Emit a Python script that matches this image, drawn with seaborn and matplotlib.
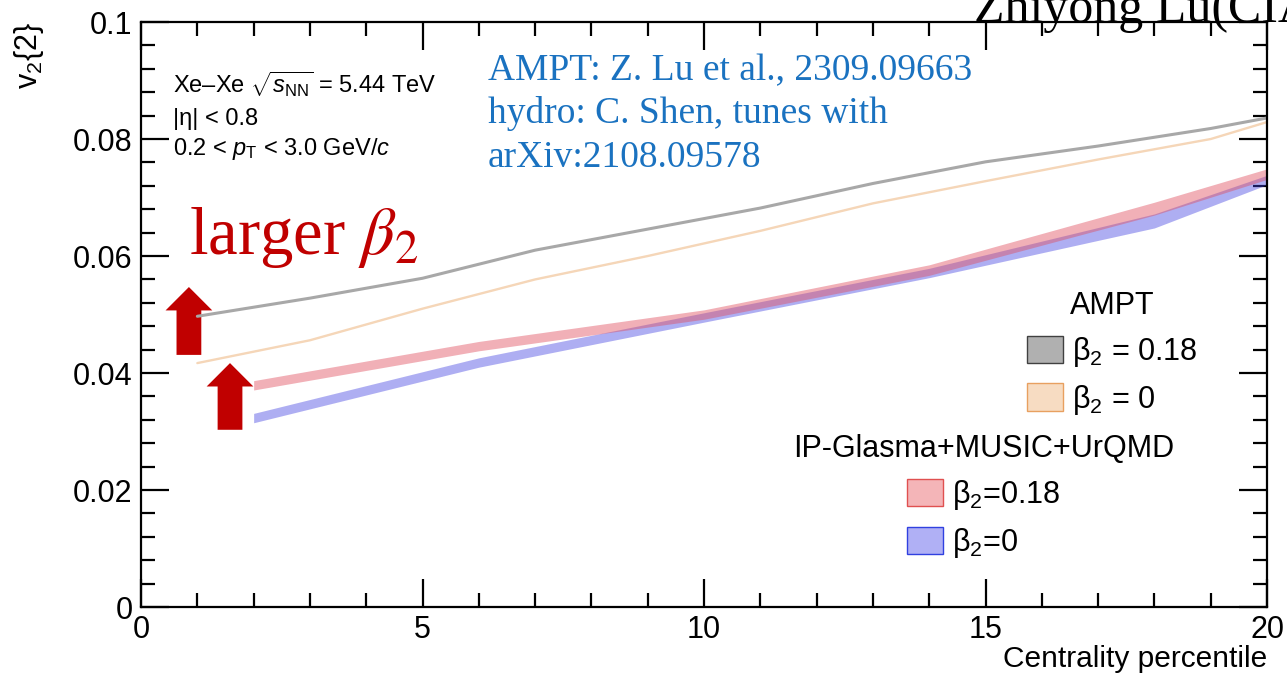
import matplotlib
matplotlib.use('Agg')
import matplotlib.pyplot as plt
import seaborn as sns
from matplotlib.patches import Patch, FancyArrow
from matplotlib.ticker import MultipleLocator

# centrality (%) and v2{2}
ampt_cent = [1, 3, 5, 7, 9, 11, 13, 15, 17, 19, 20]
ampt_b018 = [0.0497, 0.0528, 0.0562, 0.0610, 0.0646, 0.0682, 0.0724, 0.0761, 0.0788, 0.0818, 0.0836]
ampt_b0 = [0.0417, 0.0456, 0.0510, 0.0560, 0.0600, 0.0643, 0.0690, 0.0728, 0.0765, 0.0800, 0.0829]

hydro_cent = [2, 6, 10, 14, 18, 20]
hydro_b018_lo = [0.0371, 0.0438, 0.0492, 0.0567, 0.0670, 0.0731]
hydro_b018_hi = [0.0387, 0.0454, 0.0508, 0.0585, 0.0692, 0.0749]
hydro_b0_lo = [0.0315, 0.0410, 0.0487, 0.0563, 0.0648, 0.0722]
hydro_b0_hi = [0.0331, 0.0426, 0.0503, 0.0579, 0.0672, 0.0738]

x_ticks = [0, 5, 10, 15, 20]
x_ticklabels = ['0', '5', '10', '15', '20']
y_ticks = [0, 0.02, 0.04, 0.06, 0.08, 0.1]
y_ticklabels = ['0', '0.02', '0.04', '0.06', '0.08', '0.1']

sns.set_style('ticks')
plt.rcParams['font.family'] = ['Liberation Sans', 'DejaVu Sans']
plt.rcParams['mathtext.fontset'] = 'custom'
plt.rcParams['mathtext.rm'] = 'Liberation Sans'
plt.rcParams['mathtext.it'] = 'Liberation Sans:italic'
plt.rcParams['mathtext.bf'] = 'Liberation Sans:bold'
plt.rcParams['text.color'] = 'black'
plt.rcParams['axes.labelcolor'] = 'black'
plt.rcParams['xtick.color'] = 'black'
plt.rcParams['ytick.color'] = 'black'

fig = plt.figure(figsize=(12.87, 6.73), dpi=100)
ax = fig.add_axes([0.1096, 0.098, 0.8749, 0.8693])

# hydro bands
ax.fill_between(hydro_cent, hydro_b0_lo, hydro_b0_hi, color='#4040e0', alpha=0.42, linewidth=0)
ax.fill_between(hydro_cent, hydro_b018_lo, hydro_b018_hi, color='#e05060', alpha=0.45, linewidth=0)

# AMPT lines
sns.lineplot(x=ampt_cent, y=ampt_b0, ax=ax, color='#f5d6b8', linewidth=1.7)
sns.lineplot(x=ampt_cent, y=ampt_b018, ax=ax, color='#a8a8a8', linewidth=2.2)

# arrows
ax.add_patch(FancyArrow(0.85, 0.0431, 0, 0.0116, width=0.44, head_width=0.83,
                        head_length=0.0040, length_includes_head=True,
                        color='#c00000', linewidth=0))
ax.add_patch(FancyArrow(1.58, 0.0303, 0, 0.0114, width=0.44, head_width=0.83,
                        head_length=0.0040, length_includes_head=True,
                        color='#c00000', linewidth=0))

ax.set_xlim(0, 20)
ax.set_ylim(0, 0.1)
ax.set_xticks(x_ticks)
ax.set_xticklabels(x_ticklabels)
ax.set_yticks(y_ticks)
ax.set_yticklabels(y_ticklabels)
ax.xaxis.set_minor_locator(MultipleLocator(1))
ax.yaxis.set_minor_locator(MultipleLocator(0.004))
ax.tick_params(which='both', direction='in', top=True, right=True, width=1.6, colors='black')
ax.tick_params(which='major', length=20, labelsize=22, pad=6)
ax.tick_params(which='minor', length=10)
for s in ax.spines.values():
    s.set_linewidth(1.6)
    s.set_color('black')

ax.set_xlabel('Centrality percentile', fontsize=21.5, loc='right')
ax.xaxis.set_label_coords(1.0, -0.065)
ax.set_ylabel(r'v$_2${2}', fontsize=22, loc='top')
ax.yaxis.set_label_coords(-0.084, 1.0)

# info text
ax.text(0.0284, 0.879, r'Xe–Xe $\sqrt{s_{\mathrm{NN}}}$ = 5.44 TeV', transform=ax.transAxes,
        fontsize=17, va='baseline')
ax.text(0.0284, 0.824, '|η| < 0.8', transform=ax.transAxes, fontsize=17, va='baseline')
ax.text(0.0284, 0.773, r'0.2 < $p_{\mathrm{T}}$ < 3.0 GeV/$c$', transform=ax.transAxes,
        fontsize=17, va='baseline')

blue = '#1a72c0'
for txt, yy in [('AMPT: Z. Lu et al., 2309.09663', 0.901),
                ('hydro: C. Shen, tunes with', 0.827),
                ('arXiv:2108.09578', 0.752)]:
    ax.text(0.308, yy, txt, transform=ax.transAxes, fontsize=27, color=blue,
            family='Liberation Serif', va='baseline')

ax.text(0.0426, 0.604, r'larger $\beta_2$', transform=ax.transAxes, fontsize=48,
        color='#c00000', family='Liberation Serif', math_fontfamily='stix', va='baseline')

fig.text(0.757, 1 - 22 / 673, 'Zhiyong Lu(CIAE)', fontsize=36, family='Liberation Serif',
         va='baseline')
fig.text(-0.012, 0.66, ')', fontsize=34, color='#555555')

# legends
leg_kw = dict(loc='upper left', frameon=False, fontsize=22, title_fontsize=22,
              borderpad=0, handlelength=1.18, handleheight=1.0,
              handletextpad=0.3, labelspacing=0.45, borderaxespad=0)
ampt_handles = [Patch(facecolor='#b0b0b0', edgecolor='#404040', label='β$_2$ = 0.18'),
                Patch(facecolor='#f7dcc2', edgecolor='#e8a060', label='β$_2$ = 0')]
leg1 = ax.legend(handles=ampt_handles, title='AMPT', bbox_to_anchor=(0.787, 0.54), **leg_kw)
ax.add_artist(leg1)
hydro_handles = [Patch(facecolor='#f4b5b8', edgecolor='#e05050', label='β$_2$=0.18'),
                 Patch(facecolor='#b0b0f5', edgecolor='#3040e0', label='β$_2$=0')]
ax.legend(handles=hydro_handles, title='IP-Glasma+MUSIC+UrQMD',
          bbox_to_anchor=(0.579, 0.295), **leg_kw)

fig.savefig('out.png', dpi=100)
